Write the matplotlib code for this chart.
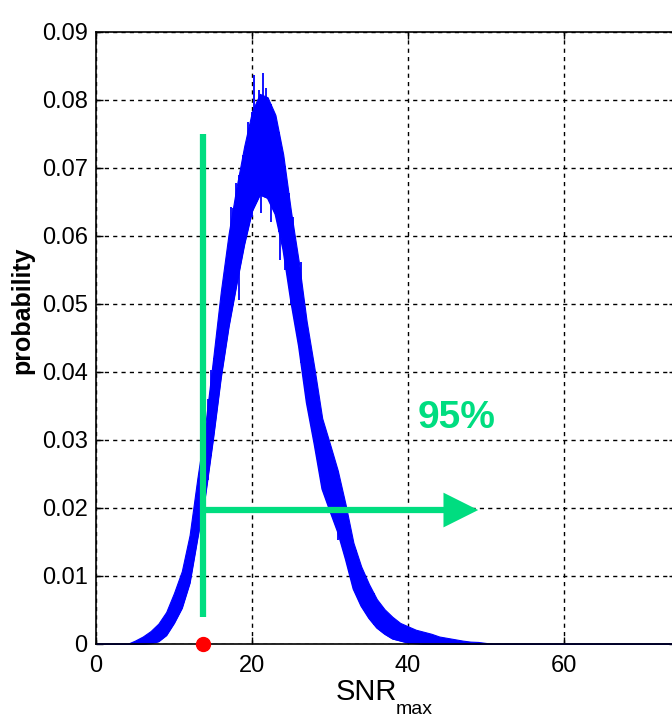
import numpy as np
import matplotlib
matplotlib.use("Agg")
import matplotlib.pyplot as plt

# ---- data ----
snr = [0, 4, 5, 6, 7, 8, 9, 10, 11, 12, 13, 14, 15, 16, 17, 18, 19, 20, 21, 22, 23, 24, 25,
       26, 27, 28, 29, 30, 31, 32, 33, 34, 35, 36, 37, 38, 39, 40, 41, 42, 43, 44, 45,
       46, 47, 48, 49, 50, 51, 80]
prob_center = [0, 0, 0.0002, 0.0005, 0.0010, 0.0017, 0.0030, 0.0053, 0.0080, 0.0125, 0.0200,
               0.0270, 0.0360, 0.0455, 0.0535, 0.0600, 0.0660, 0.0710, 0.0735, 0.0730, 0.0705,
               0.0650, 0.0570, 0.0500, 0.0415, 0.0350, 0.0280, 0.0245, 0.0210, 0.0165, 0.0115,
               0.0085, 0.0063, 0.0045, 0.0033, 0.0024, 0.0018, 0.0014, 0.0011, 0.0009, 0.0007,
               0.0005, 0.0004, 0.0003, 0.0002, 0.00015, 0.0001, 0.00005, 0, 0]
prob_spread = [0, 0, 0.0003, 0.0006, 0.0009, 0.0013, 0.0017, 0.0022, 0.0027, 0.0035, 0.0044,
               0.0051, 0.0058, 0.0063, 0.0068, 0.0071, 0.0072, 0.0073, 0.0074, 0.0074, 0.0073,
               0.0070, 0.0066, 0.0062, 0.0060, 0.0056, 0.0052, 0.0049, 0.0045, 0.0040, 0.0034,
               0.0029, 0.0025, 0.0021, 0.0018, 0.0016, 0.0013, 0.0012, 0.0010, 0.0009, 0.0008,
               0.0006, 0.0005, 0.0004, 0.0003, 0.0002, 0.0002, 0.0001, 0, 0]

spike_up_x = [21.4, 20.3, 20.9, 21.8, 22.7, 17.9, 19.5, 23.5, 24.7, 17.3, 17.6, 26.3, 25.2, 15.1, 14.7]
spike_up_y = [0.0840, 0.0837, 0.0815, 0.0818, 0.0780, 0.0678, 0.0768, 0.0753, 0.0663, 0.0643,
              0.0641, 0.0562, 0.0628, 0.0420, 0.0403]
spike_dn_x = [20.0, 21.2, 22.4, 23.6, 24.2, 18.8, 18.3, 25.0, 31.0, 33.3, 35.6, 14.4]
spike_dn_y = [0.0628, 0.0634, 0.0620, 0.0565, 0.0550, 0.0604, 0.0506, 0.0500, 0.0153, 0.0090,
              0.0028, 0.0241]

threshold = 13.7          # green vertical line / red dot
thr_line_bottom = 0.004
thr_line_top = 0.075
arrow_y = 0.0197
arrow_head_start = 44.5
arrow_end = 49.0
label_text = "95%"
label_xy = (46.2, 0.0332)

xticks = [0, 20, 40, 60]
yticks = [0, 0.01, 0.02, 0.03, 0.04, 0.05, 0.06, 0.07, 0.08, 0.09]
ytick_labels = ["0", "0.01", "0.02", "0.03", "0.04", "0.05", "0.06", "0.07", "0.08", "0.09"]

green = "#00DD80"
blue = "#0000FF"

plt.rcParams['font.family'] = ['Liberation Sans', 'DejaVu Sans']

fig = plt.figure(figsize=(6.72, 7.2), dpi=100)
ax = fig.add_axes([96 / 672, 76 / 720, 580 / 672, 612 / 720])

center = np.array(prob_center)
spread = np.array(prob_spread)
prob_low = np.maximum(center - spread, 0)
prob_high = center + spread

# noisy histogram band
ax.fill_between(snr, prob_low, prob_high, color=blue, lw=0.8, edgecolor=blue, zorder=2)
ax.plot(snr, prob_low, color=blue, lw=1.2, zorder=2)
lo_at_up = np.interp(spike_up_x, snr, prob_low)
ax.vlines(spike_up_x, lo_at_up, spike_up_y, color=blue, lw=1.3, zorder=2)
hi_at_dn = np.interp(spike_dn_x, snr, prob_high)
ax.vlines(spike_dn_x, spike_dn_y, hi_at_dn, color=blue, lw=1.3, zorder=2)

# threshold annotations
ax.plot([threshold, threshold], [thr_line_bottom, thr_line_top], color=green, lw=4.5,
        solid_capstyle='butt', zorder=3)
ax.plot([threshold, arrow_head_start + 0.3], [arrow_y, arrow_y], color=green, lw=4.5,
        solid_capstyle='butt', zorder=3)
ax.annotate('', xy=(arrow_end, arrow_y), xytext=(arrow_head_start, arrow_y),
            arrowprops=dict(arrowstyle='-|>,head_length=1.0,head_width=0.5',
                            mutation_scale=25, lw=0, color=green, shrinkA=0, shrinkB=0),
            zorder=3)
ax.text(label_xy[0], label_xy[1], label_text, color=green, fontsize=28, fontweight='bold',
        ha='center', va='center', zorder=4)
ax.plot([threshold], [0], 'o', color='red', markersize=10, clip_on=False, zorder=5)

ax.set_xlim(0, 580 / 7.8)
ax.set_ylim(0, 0.09)
ax.set_xticks(xticks)
ax.set_yticks(yticks)
ax.set_yticklabels(ytick_labels)
ax.tick_params(direction='in', length=5, width=1, labelsize=17, pad=6,
               top=True, right=True, colors='black')
ax.tick_params(axis='x', pad=8)
ax.grid(True, color='black', linestyle=(0, (3, 3)), linewidth=1)
ax.set_axisbelow(True)
for s in ax.spines.values():
    s.set_linewidth(1.2)
    s.set_color('black')

ax.set_ylabel('probability', fontsize=18, fontweight='bold')
ax.yaxis.set_label_coords(-0.107, 0.545)

# x label: "SNR" with a lowered "max" subscript
fig.text(366 / 672, 1 - 700 / 720, 'SNR', fontsize=21, ha='center', va='baseline')
fig.text(396 / 672, 1 - 714 / 720, 'max', fontsize=14, ha='left', va='baseline')

fig.savefig('out.png', dpi=100)
